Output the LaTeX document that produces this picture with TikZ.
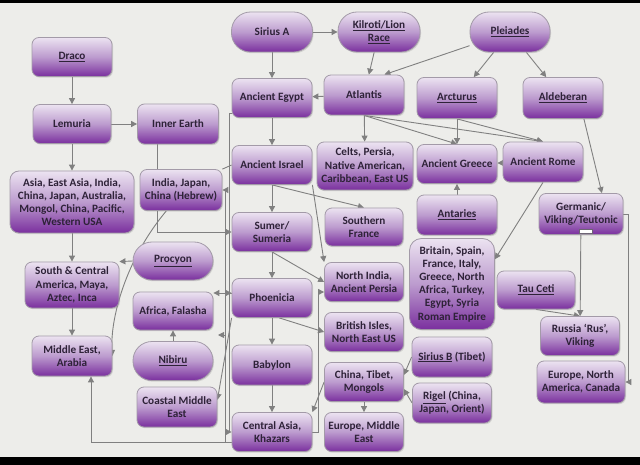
\documentclass[tikz,border=0pt]{standalone}
\usepackage{fontspec}
\setmainfont{Carlito}
\usetikzlibrary{positioning,calc,arrows.meta,shadows,backgrounds}
\definecolor{bg}{HTML}{EDEDEA}
\definecolor{ln}{HTML}{808080}
\definecolor{txt}{HTML}{2E2238}
\definecolor{ptop}{HTML}{ECE3F1}
\definecolor{pmid}{HTML}{BC9BCE}
\definecolor{pbot}{HTML}{7A2F9E}
\definecolor{rim}{HTML}{A39AA8}

\begin{document}
\begin{tikzpicture}[x=1pt,y=-1pt,
    box/.style={draw=rim,line width=0.8pt,rounded corners=7pt,top color=ptop,bottom color=pbot,middle color=pmid,
      drop shadow={opacity=0.25,shadow xshift=1pt,shadow yshift=-1.2pt},
      text=txt,font=\fontsize{11.2}{13.2}\selectfont\bfseries,align=center,inner sep=1pt,
      minimum width=80pt,minimum height=39pt},
    pill/.style={box,rounded corners=19pt},
    arr/.style={draw=ln,line width=0.9pt,-{Triangle[length=6pt,width=6pt]}},
    link/.style={draw=ln,line width=0.9pt}]
    \useasboundingbox (0,0) rectangle (640,465);

    \node[box] (draco) at (72,57) {\underline{Draco}};
    \node[pill,minimum width=81pt,minimum height=40pt] (siriusA) at (272,32) {Sirius A};
    \node[pill,minimum width=82pt,minimum height=40pt] (kilroti) at (379,32) {\underline{Kilroti/Lion}\\\underline{Race}};
    \node[pill,minimum height=40pt] (pleiades) at (510,32) {\underline{Pleiades}};
    \node[box] (egypt) at (272,98) {Ancient Egypt};
    \node[box,minimum height=40pt] (atlantis) at (364,95) {Atlantis};
    \node[box,minimum height=41pt] (arcturus) at (457,98) {\underline{Arcturus}};
    \node[box,minimum height=41pt] (aldeberan) at (563,98) {\underline{Aldeberan}};
    \node[box,minimum width=78pt] (lemuria) at (72,124) {Lemuria};
    \node[box,minimum width=81pt,minimum height=40pt] (innerearth) at (178,124) {Inner Earth};
    \node[box] (israel) at (272,165) {Ancient Israel};
    \node[box,minimum width=96pt,minimum height=48pt] (celts) at (365,166) {Celts, Persia,\\Native American,\\Caribbean, East US};
    \node[box] (greece) at (457,164) {Ancient Greece};
    \node[box,minimum height=40pt] (rome) at (543,162) {Ancient Rome};
    \node[box,minimum width=124pt,minimum height=62pt,rounded corners=9pt] (asia) at (72,202) {Asia, East Asia, India,\\China, Japan, Australia,\\Mongol, China, Pacific,\\Western USA};
    \node[box,minimum width=82pt,minimum height=41pt] (hebrew) at (181,190) {India, Japan,\\China (Hebrew)};
    \node[box,minimum height=40pt] (antaries) at (457,215) {\underline{Antaries}};
    \node[box,minimum width=84pt,minimum height=41pt] (germanic) at (581,214) {Germanic/\\Viking/Teutonic};
    \node[box] (sumer) at (272,232) {Sumer/\\Sumeria};
    \node[box,minimum width=78pt,minimum height=38pt] (france) at (364,227) {Southern\\France};
    \node[pill,minimum height=38pt] (procyon) at (173,261) {\underline{Procyon}};
    \node[box,minimum width=85pt,minimum height=91pt,rounded corners=12pt] (britain) at (452,284) {Britain, Spain,\\France, Italy,\\Greece, North\\Africa, Turkey,\\Egypt, Syria\\Roman Empire};
    \node[box,minimum width=79pt] (northindia) at (364,282) {North India,\\Ancient Persia};
    \node[box,minimum width=94pt,minimum height=46pt] (southam) at (72,285) {South \& Central\\America, Maya,\\Aztec, Inca};
    \node[box,minimum width=78pt,minimum height=38pt] (tauceti) at (536,290) {\underline{Tau Ceti}};
    \node[box] (phoenicia) at (272,298) {Phoenicia};
    \node[box,minimum height=38pt] (africa) at (173,311) {Africa, Falasha};
    \node[box,minimum width=79pt] (british) at (364,332) {British Isles,\\North East US};
    \node[box,minimum width=79pt] (russia) at (580,336) {Russia `Rus',\\Viking};
    \node[box,minimum height=40pt] (middleeast) at (72,356) {Middle East,\\Arabia};
    \node[pill] (nibiru) at (173,361) {\underline{Nibiru}};
    \node[box,minimum height=40pt] (babylon) at (272,365) {Babylon};
    \node[box,minimum height=40pt] (siriusB) at (452,357) {\underline{Sirius B} (Tibet)};
    \node[box,minimum width=79pt] (china) at (364,382) {China, Tibet,\\Mongols};
    \node[box,minimum width=88pt,minimum height=42pt] (europeNA) at (581,382) {Europe, North\\America, Canada};
    \node[box,minimum width=79pt,minimum height=40pt] (rigel) at (452,403) {\underline{Rigel} (China,\\Japan, Orient)};
    \node[box,minimum height=40pt] (coastal) at (177,407) {Coastal Middle\\East};
    \node[box] (centralasia) at (272,432) {Central Asia,\\Khazars};
    \node[box,minimum width=79pt] (europeME) at (364,432) {Europe, Middle\\East};
    \draw[txt!70,fill=white,line width=0.6pt] (579,229) rectangle (592,233);
    \coordinate (fal) at (218,335);

    \begin{scope}[on background layer]
    \fill[bg] (0,0) rectangle (640,465);
    \fill[black] (0,0) rectangle (640,3);
    \fill[black] (0,457) rectangle (640,465);

    \draw[arr] (draco) -- (lemuria);
    \draw[arr] (lemuria) -- (innerearth);
    \draw[arr] (lemuria) -- (asia);
    \draw[arr] (asia) -- (southam);
    \draw[arr] (southam) -- (middleeast);
    \draw[arr] (siriusA) -- (egypt);
    \draw[arr] (siriusA) -- (kilroti);
    \draw[arr] (kilroti) -- (atlantis);
    \draw[arr] (pleiades) -- (atlantis.45);
    \draw[arr] (pleiades) -- (arcturus);
    \draw[arr] (pleiades) -- (aldeberan);
    \draw[arr] (atlantis) -- (egypt);
    \draw[arr] (atlantis) -- (celts);
    \draw[arr] (atlantis.south) -- (greece.north);
    \draw[arr] (atlantis.south) -- (rome.north);
    \draw[arr] (arcturus) -- (greece);
    \draw[arr] (arcturus.south) -- (rome.north);
    \draw[arr] (rome) -- (greece);
    \draw[arr] (antaries) -- (greece);
    \draw[arr] (aldeberan.-45) -- (germanic.45);
    \draw[arr] (rome.south) -- (britain.30);
    \draw[arr] (germanic) -- (russia);
    \draw[arr] (tauceti.south) -- (russia.north);
    \draw[arr] (germanic.east) -- ++(5,0) |- (europeNA.east);
    \draw[arr] (egypt) -- (israel);
    \draw[arr] (israel) -- (sumer);
    \draw[arr] (sumer) -- (phoenicia);
    \draw[arr] (phoenicia) -- (babylon);
    \draw[arr] (babylon) -- (centralasia);
    \draw[arr] (israel.south) -- (france.north);
    \draw[arr] (israel.south east) -- (northindia.north west);
    \draw[arr] (sumer.south) -- (northindia.west);
    \draw[arr] (phoenicia.-70) -- (british.west);
    \draw[arr] (centralasia.east) -- ++(6,0) |- ($(northindia.west)+(0,10)$);
    \draw[arr] (china.west) -- (centralasia.north east);
    \draw[arr] (china) -- (europeME);
    \draw[arr] (siriusB.west) -- (china.10);
    \draw[arr] (rigel.west) -- (china.-10);
    \draw[arr] (procyon.west) -- (southam.north east);
    \draw[arr] (hebrew.-125) .. controls (125,260) and (110,320) .. (middleeast.east);
    \draw[arr] (nibiru) -- (africa);
    \draw[arr] ($(phoenicia.west)+(0,-5)$) coordinate (pa) -- (africa.east |- pa);
    \draw[arr] ($(egypt.south west)+(0,-4)$) -- ++(-2,0) |- (centralasia.west);
    \draw[arr] ($(egypt.south west)+(0,-4)$) -- ++(-2,0) |- (pa);
    \draw[link] (israel.west) -- (hebrew.north east);
    \draw[arr] ($(centralasia.west)+(0,10)$) coordinate (ca) -- ++(-6,0) |- (hebrew.east);
    \draw[arr] (ca) -| ($(middleeast.south)+(19,0)$);
    \draw[arr] (ca) -- ++(-6,0) |- (fal);
    \draw[arr] ($(innerearth.south)+(-21,0)$) |- (sumer.west);
    \draw[arr] (phoenicia.south west) -- (coastal.10);
    \end{scope}
\end{tikzpicture}
\end{document}
